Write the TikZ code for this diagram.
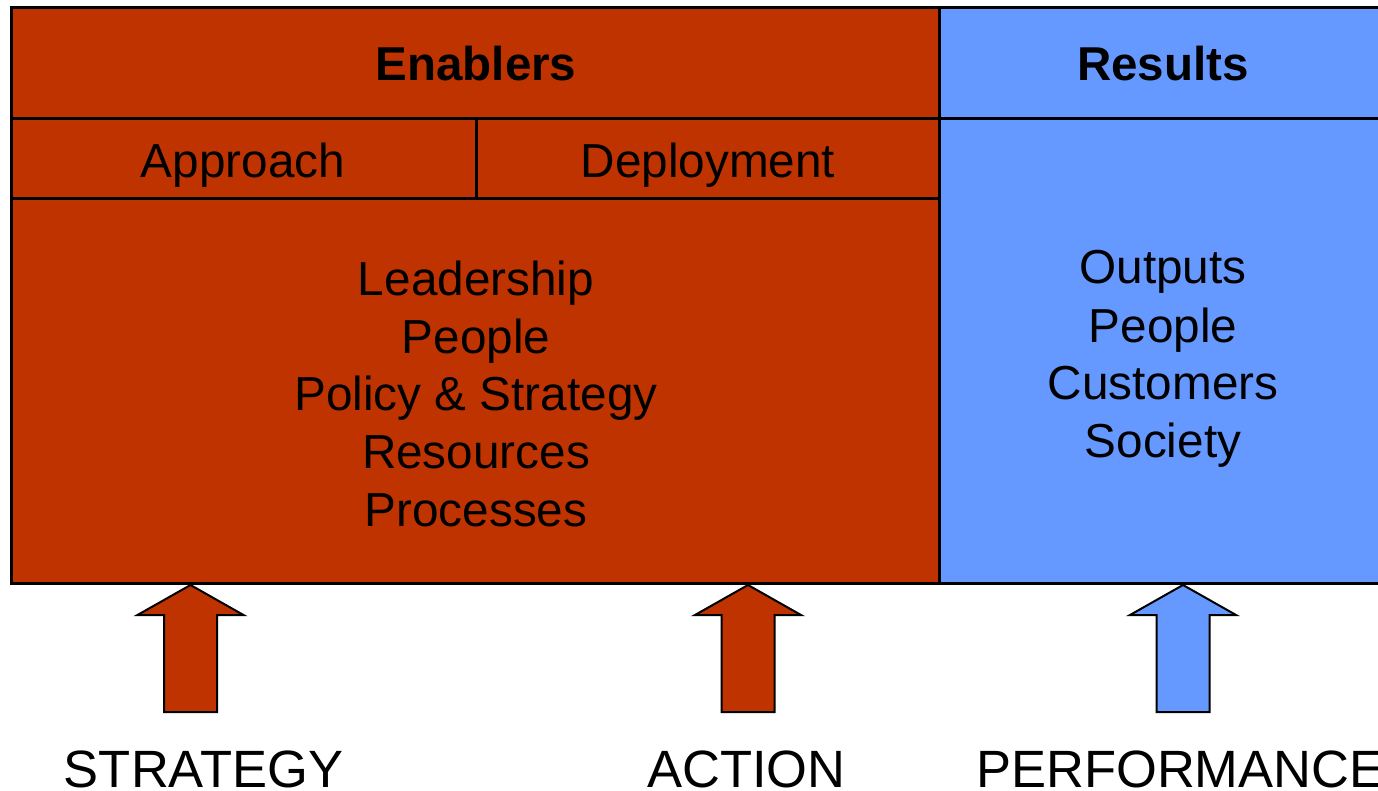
\documentclass[tikz,border=0pt]{standalone}
\usepackage{fontspec}
\setmainfont{Liberation Sans}
\begin{document}
\begin{tikzpicture}[x=1pt,y=-1pt,
  enabler/.style={fill=enablerred,draw=black,line width=3pt},
  result/.style={fill=resultblue,draw=black,line width=3pt},
  label/.style={anchor=base,inner sep=0pt,font=\fontsize{47.7}{57.7}\selectfont},
  heading/.style={label,font=\fontsize{47.5}{57.7}\selectfont\bfseries},
  caption/.style={anchor=base,inner sep=0pt,font=\fontsize{52.5}{60}\selectfont},
  blockarrow/.style={draw=black,line width=2pt,line join=miter}]
\definecolor{enablerred}{HTML}{BF3300}
\definecolor{resultblue}{HTML}{6699FF}
\useasboundingbox (0,0) rectangle (1378,791);
\clip (0,0) rectangle (1378,791);

% Enablers panel
\draw[enabler] (11,7.5) rectangle (939.5,583);
\draw[black,line width=3pt] (11,119) -- (939.5,119);
\draw[black,line width=3pt] (11,199) -- (939.5,199);
\draw[black,line width=3pt] (476,119) -- (476,199);

% Results panel
\draw[result] (939.5,7.5) rectangle (1400,583);
\draw[black,line width=3pt] (939.5,119) -- (1400,119);

% Headings
\node[heading] (enablers) at (476,80.5) {Enablers};
\node[heading] (results) at (1163,80.5) {Results};
\node[label] (approach) at (243,178) {Approach};
\node[label] (deployment) at (708,178) {Deployment};

% Enabler criteria
\node[label] (leadership) at (476,295.5) {Leadership};
\node[label] (people) at (476,353) {People};
\node[label] (policy) at (476,410.5) {Policy \& Strategy};
\node[label] (resources) at (476,468.5) {Resources};
\node[label] (processes) at (476,526) {Processes};

% Result criteria
\node[label] (outputs) at (1163,284) {Outputs};
\node[label] (rpeople) at (1163,342) {People};
\node[label] (customers) at (1163,399.5) {Customers};
\node[label] (society) at (1163,457) {Society};

% Block arrows feeding the panels
\foreach \name/\cx/\col in {strategyarrow/190.5/enablerred, actionarrow/748/enablerred, performancearrow/1183/resultblue}{
  \coordinate (\name) at (\cx,585);
  \draw[blockarrow,fill=\col] (\name)
    -- ++(53,30) -- ++(-26.5,0) -- ++(0,97) -- ++(-53,0) -- ++(0,-97) -- ++(-26.5,0) -- cycle;
}

% Captions
\node[caption] (strategy) at (203.5,787) {STRATEGY};
\node[caption] (action) at (746.5,787) {ACTION};
\node[caption,anchor=base west] (performance) at (976,787) {PERFORMANCE};
\end{tikzpicture}
\end{document}
